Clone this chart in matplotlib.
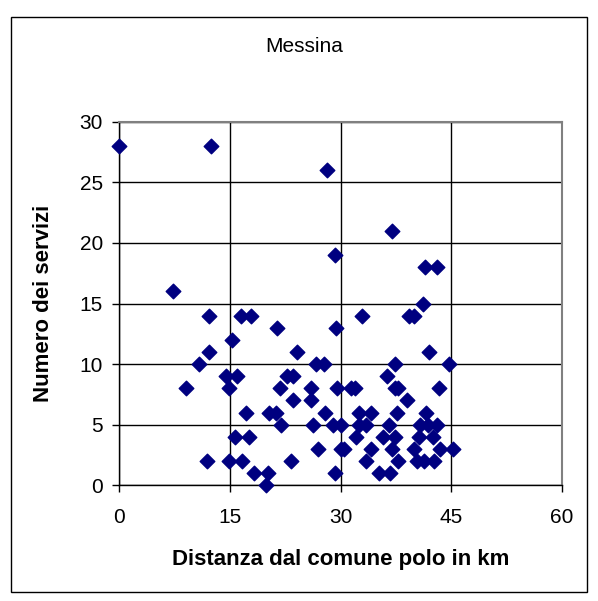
import numpy as np
import matplotlib
matplotlib.use('Agg')
import matplotlib.pyplot as plt
from matplotlib.patches import Rectangle

plt.rcParams['font.family'] = ['Liberation Sans', 'DejaVu Sans']

# distanza dal comune polo (km) e numero dei servizi
distanza = [
    0, 12.4,
    28.2,
    36.9,
    29.2,
    41.4, 43.1,
    7.3,
    41.2,
    12.2, 16.5, 17.9, 32.9, 39.3, 39.9,
    21.4, 29.3,
    15.2,
    12.2, 24.1, 42.0,
    10.8, 26.6, 27.7, 37.4, 44.7,
    14.5, 16.0, 22.7, 23.5, 36.3,
    9.0, 14.9, 21.7, 26.0, 29.5, 31.4, 31.9, 37.3, 37.8, 43.3,
    23.5, 26.0, 39.0,
    17.2, 20.3, 21.2, 27.8, 32.5, 34.1, 37.6, 41.5,
    21.9, 26.3, 29.0, 30.1, 32.5, 33.4, 36.5, 40.7, 41.8, 43.1,
    15.7, 17.5, 32.1, 35.7, 37.4, 40.6, 42.5,
    26.9, 30.0, 30.4, 34.1, 36.9, 39.9, 43.4, 45.2,
    11.9, 14.8, 16.6, 23.3, 33.4, 37.7, 40.3, 41.3, 42.7,
    18.3, 20.1, 29.2, 35.2, 36.7,
    19.8,
]
servizi = (
    [28] * 2 + [26] + [21] + [19] + [18] * 2 + [16] + [15] + [14] * 6
    + [13] * 2 + [12] + [11] * 3 + [10] * 5 + [9] * 5 + [8] * 10 + [7] * 3
    + [6] * 8 + [5] * 10 + [4] * 7 + [3] * 8 + [2] * 9 + [1] * 5 + [0]
)

x_ticks = [0, 15, 30, 45, 60]
y_ticks = [0, 5, 10, 15, 20, 25, 30]

fig = plt.figure(figsize=(5.98, 6.01), dpi=100)
ax = fig.add_axes([0.1998, 0.1925, 0.7400, 0.6050])

ax.scatter(distanza, servizi, marker='D', s=55, color='#000080', zorder=3,
           clip_on=False)

ax.set_xlim(0, 60)
ax.set_ylim(0, 30)
ax.set_xticks(x_ticks)
ax.set_yticks(y_ticks)
ax.grid(True, color='black', linewidth=1)
ax.set_axisbelow(True)
ax.tick_params(direction='out', length=5, width=1, labelsize=15, pad=7)
ax.tick_params(axis='x', pad=11)

for s in ['top', 'right']:
    ax.spines[s].set_color('#808080')
    ax.spines[s].set_linewidth(1.5)
for s in ['left', 'bottom']:
    ax.spines[s].set_color('black')
    ax.spines[s].set_linewidth(1)

ax.set_xlabel('Distanza dal comune polo in km', fontsize=16,
              fontweight='bold', labelpad=16)
ax.set_ylabel('Numero dei servizi', fontsize=16, fontweight='bold',
              labelpad=18)
fig.text(0.508, 0.922, 'Messina', fontsize=15, ha='center', va='center')

# bordo esterno del grafico
fig.patches.append(Rectangle((11 / 598, 1 - 592 / 601), 576 / 598, 575 / 601,
                             transform=fig.transFigure, fill=False,
                             edgecolor='black', linewidth=1))

fig.savefig('out.png', dpi=100)
